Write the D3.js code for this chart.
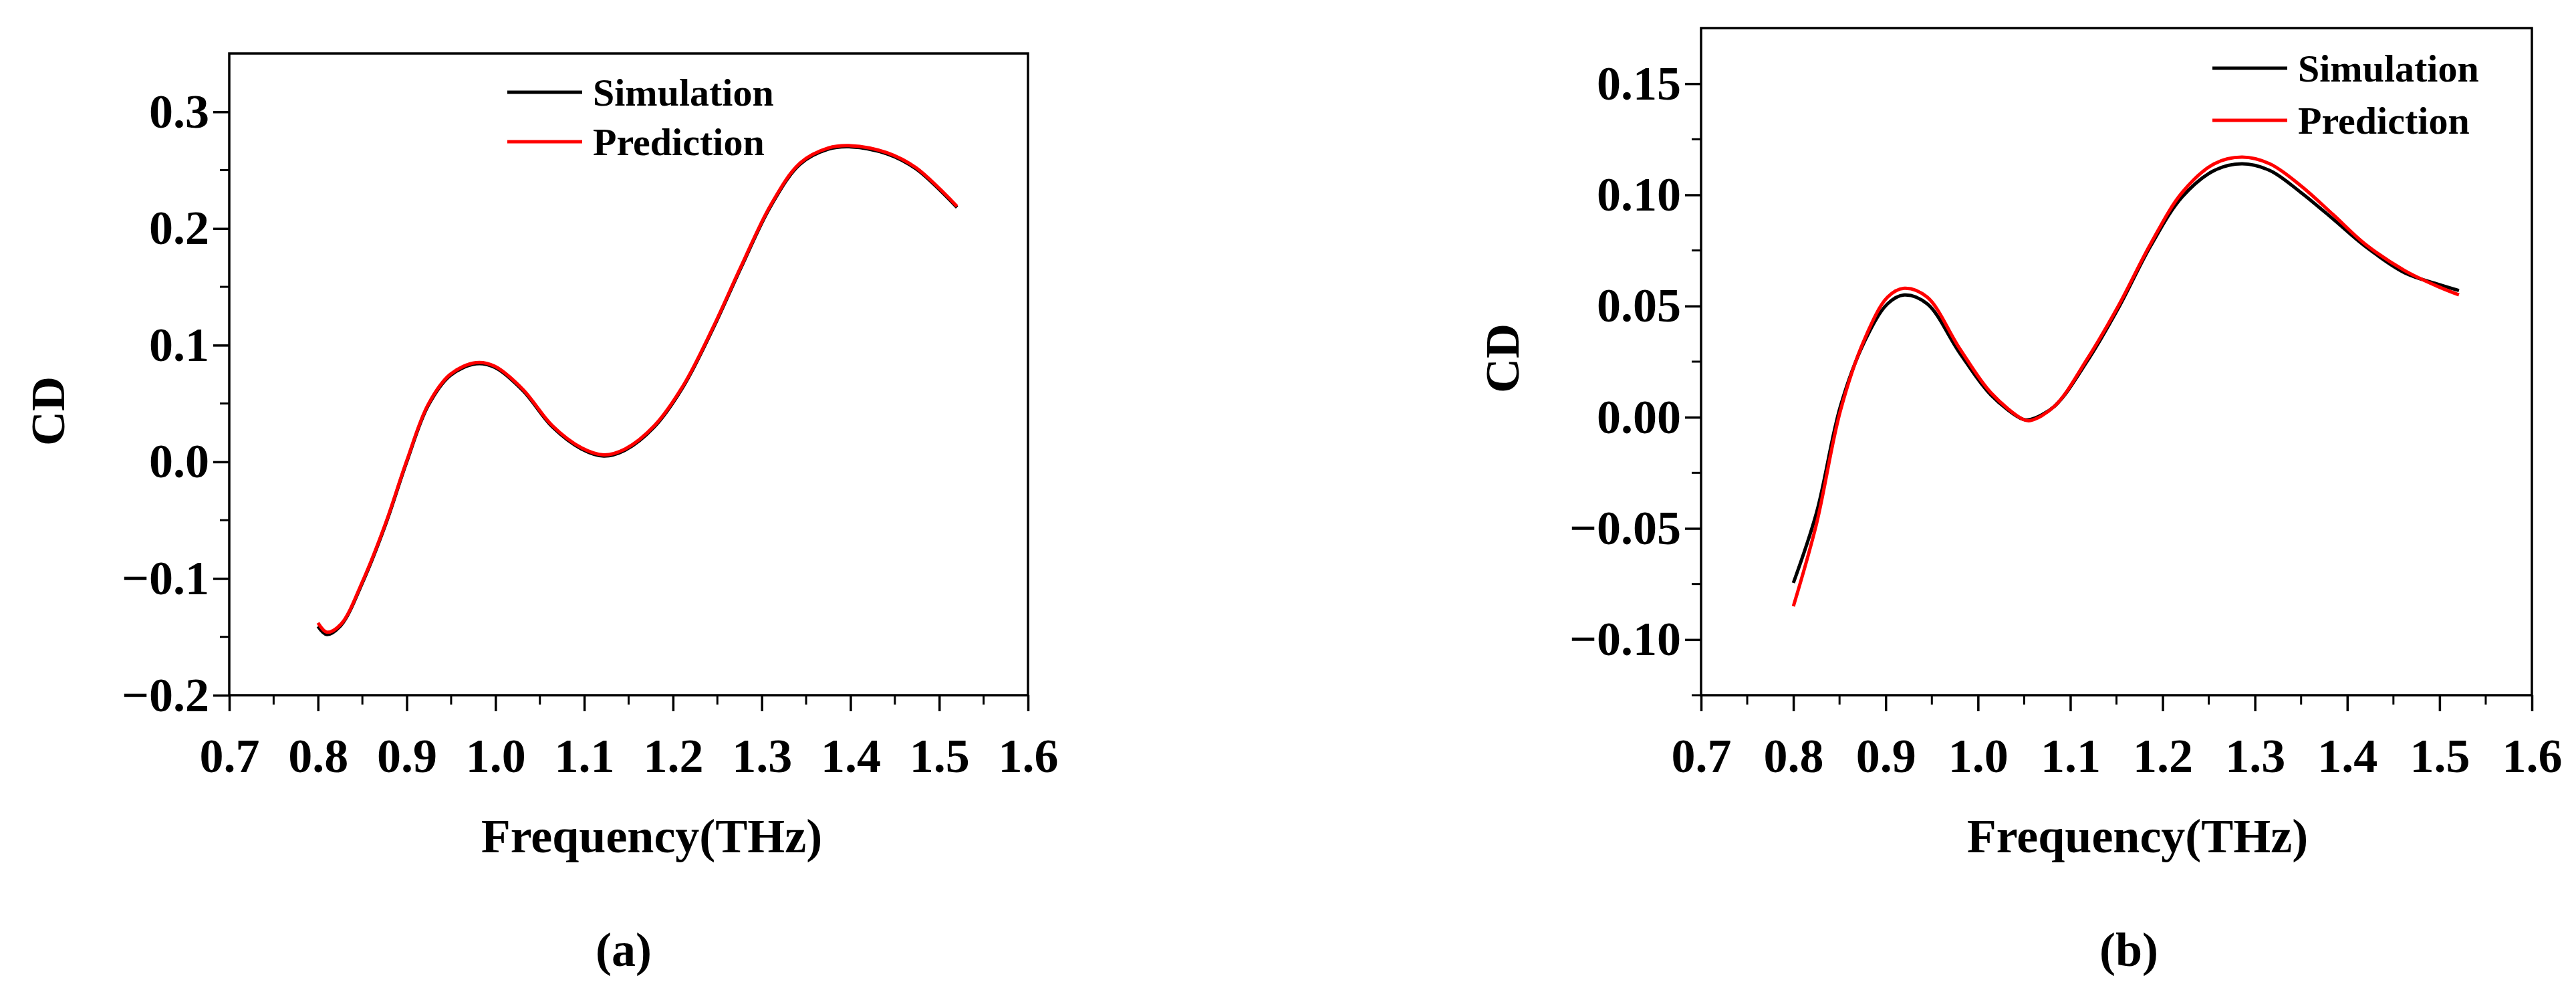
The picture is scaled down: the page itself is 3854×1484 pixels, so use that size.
<!DOCTYPE html>
<html>
<head>
<meta charset="utf-8">
<script src="https://cdn.jsdelivr.net/npm/d3@7"></script>
<style>
	body { margin: 0; background: #fff; }
	text { font-family: "Liberation Serif", "Times New Roman", serif; font-weight: bold; fill: #000; }
</style>
</head>
<body>
<svg id="chart" width="3854" height="1484"></svg>
<script>
// panel (a)
var freqA = [0.8, 0.81, 0.826, 0.851, 0.876, 0.9, 0.924, 0.949, 0.978, 0.999, 1.031, 1.064, 1.097, 1.122, 1.146, 1.179, 1.212, 1.245, 1.277, 1.31, 1.343, 1.375, 1.4, 1.441, 1.474, 1.52];
var simA = [-0.141, -0.148, -0.140, -0.102, -0.054, 0.0, 0.048, 0.074, 0.084, 0.081, 0.061, 0.030, 0.011, 0.005, 0.010, 0.030, 0.065, 0.114, 0.167, 0.219, 0.255, 0.268, 0.270, 0.264, 0.251, 0.218];
var predA = [-0.138, -0.146, -0.139, -0.101, -0.053, 0.001, 0.049, 0.075, 0.085, 0.082, 0.062, 0.031, 0.012, 0.006, 0.011, 0.031, 0.066, 0.115, 0.168, 0.220, 0.256, 0.269, 0.271, 0.265, 0.252, 0.219];

// panel (b)
var freqB = [0.8, 0.825, 0.851, 0.877, 0.902, 0.92, 0.945, 0.98, 1.014, 1.049, 1.057, 1.083, 1.118, 1.152, 1.187, 1.221, 1.256, 1.286, 1.316, 1.35, 1.385, 1.419, 1.462, 1.497, 1.521];
var simB = [-0.0745, -0.043, 0.005, 0.034, 0.051, 0.055, 0.051, 0.029, 0.010, -0.001, -0.001, 0.005, 0.025, 0.049, 0.077, 0.099, 0.111, 0.114, 0.111, 0.101, 0.089, 0.077, 0.065, 0.060, 0.057];
var predB = [-0.085, -0.048, 0.003, 0.035, 0.054, 0.058, 0.054, 0.031, 0.011, -0.001, -0.0015, 0.005, 0.026, 0.050, 0.078, 0.101, 0.114, 0.117, 0.114, 0.104, 0.091, 0.078, 0.066, 0.059, 0.055];

var xTicks = [0.7, 0.8, 0.9, 1.0, 1.1, 1.2, 1.3, 1.4, 1.5, 1.6];
var yTicksA = [-0.2, -0.1, 0.0, 0.1, 0.2, 0.3];
var yTicksB = [-0.10, -0.05, 0.00, 0.05, 0.10, 0.15];
var seriesNames = ["Simulation", "Prediction"];
var seriesColors = ["#000000", "#ff0000"];

var svg = d3.select("#chart");

var drawPanel = function(o){
	var x = d3.scaleLinear().domain([0.7, 1.6]).range([o.left, o.right]);
	var y = d3.scaleLinear().domain(o.yDomain).range([o.bottom, o.top]);
	var g = svg.append("g");

	// frame
	g.append("rect")
		.attr("x", o.left).attr("y", o.top)
		.attr("width", o.right - o.left).attr("height", o.bottom - o.top)
		.attr("fill", "none").attr("stroke", "#000").attr("stroke-width", 3.5);

	// x axis
	var xMinor = d3.range(0.75, 1.6, 0.1);
	g.selectAll(".xminor").data(xMinor).enter().append("line")
		.attr("x1", function(d){ return x(d); }).attr("x2", function(d){ return x(d); })
		.attr("y1", o.bottom).attr("y2", o.bottom + 14)
		.attr("stroke", "#000").attr("stroke-width", 3);
	var xAxis = g.append("g").attr("transform", "translate(0," + o.bottom + ")")
		.call(d3.axisBottom(x).tickValues(xTicks).tickFormat(d3.format(".1f")).tickSize(24).tickPadding(40));
	xAxis.select(".domain").remove();
	xAxis.selectAll("line").attr("stroke-width", 3.5);
	xAxis.selectAll("text").attr("font-size", 72).attr("font-family", "Liberation Serif");

	// y axis
	g.selectAll(".yminor").data(o.yMinor).enter().append("line")
		.attr("x1", o.left - 14).attr("x2", o.left)
		.attr("y1", function(d){ return y(d); }).attr("y2", function(d){ return y(d); })
		.attr("stroke", "#000").attr("stroke-width", 3);
	var yAxis = g.append("g").attr("transform", "translate(" + o.left + ",0)")
		.call(d3.axisLeft(y).tickValues(o.yTicks).tickFormat(d3.format(o.fmt)).tickSize(24).tickPadding(6));
	yAxis.select(".domain").remove();
	yAxis.selectAll("line").attr("stroke-width", 3.5);
	yAxis.selectAll("text").attr("font-size", 72).attr("font-family", "Liberation Serif");

	// lines
	var series = [o.sim, o.pred];
	series.forEach(function(vals, i){
		var pts = o.freq.map(function(f, j){ return [f, vals[j]]; });
		g.append("path")
			.datum(pts)
			.attr("fill", "none")
			.attr("stroke", seriesColors[i])
			.attr("stroke-width", 5)
			.attr("d", d3.line().curve(d3.curveCatmullRom)
				.x(function(d){ return x(d[0]); })
				.y(function(d){ return y(d[1]); }));
	});

	// legend
	seriesNames.forEach(function(name, i){
		var ly = o.legY[i];
		g.append("line")
			.attr("x1", o.legX).attr("x2", o.legX + 112)
			.attr("y1", ly).attr("y2", ly)
			.attr("stroke", seriesColors[i]).attr("stroke-width", 5);
		g.append("text")
			.attr("x", o.legX + 128).attr("y", ly + 20)
			.attr("font-size", 58)
			.text(name);
	});

	// axis titles
	g.append("text")
		.attr("transform", "translate(" + (o.cdX + 25) + "," + o.cdY + ") rotate(-90)")
		.attr("text-anchor", "middle").attr("font-size", 72)
		.text("CD");
	g.append("text")
		.attr("x", o.xLabX).attr("y", 1275)
		.attr("text-anchor", "middle").attr("font-size", 72)
		.text("Frequency(THz)");
	g.append("text")
		.attr("x", o.tagX).attr("y", 1445)
		.attr("text-anchor", "middle").attr("font-size", 72)
		.text(o.tag);
};

drawPanel({
	left: 343, right: 1538, top: 80, bottom: 1040,
	yDomain: [-0.2, 0.35], yTicks: yTicksA, fmt: ".1f",
	yMinor: d3.range(-0.15, 0.35, 0.1),
	freq: freqA, sim: simA, pred: predA,
	legX: 759, legY: [138, 212],
	cdX: 71, cdY: 615, xLabX: 975, tagX: 933, tag: "(a)"
});

drawPanel({
	left: 2545, right: 3788, top: 42, bottom: 1040,
	yDomain: [-0.125, 0.175], yTicks: yTicksB, fmt: ".2f",
	yMinor: d3.range(-0.125, 0.175, 0.05),
	freq: freqB, sim: simB, pred: predB,
	legX: 3310, legY: [102, 180],
	cdX: 2247, cdY: 536, xLabX: 3198, tagX: 3185, tag: "(b)"
});
</script>
</body>
</html>
